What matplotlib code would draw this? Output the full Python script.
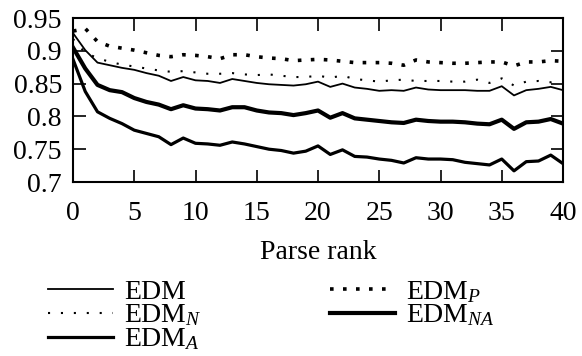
import matplotlib
matplotlib.use('Agg')
from matplotlib import pyplot as plt
from matplotlib.ticker import FuncFormatter

# parse rank 0..40
rank = list(range(41))

edm = [0.927, 0.901, 0.882, 0.878, 0.874, 0.871, 0.866, 0.862, 0.854, 0.860,
       0.855, 0.854, 0.851, 0.857, 0.854, 0.851, 0.849, 0.848, 0.847, 0.849,
       0.853, 0.845, 0.850, 0.844, 0.842, 0.839, 0.840, 0.839, 0.844, 0.841,
       0.840, 0.840, 0.840, 0.839, 0.839, 0.846, 0.832, 0.840, 0.842, 0.845,
       0.840]
edm_n = [0.918, 0.897, 0.889, 0.883, 0.879, 0.876, 0.873, 0.870, 0.868, 0.869,
         0.867, 0.865, 0.865, 0.866, 0.864, 0.863, 0.864, 0.862, 0.860, 0.860,
         0.862, 0.859, 0.862, 0.857, 0.855, 0.853, 0.855, 0.856, 0.854, 0.854,
         0.854, 0.853, 0.853, 0.856, 0.851, 0.858, 0.847, 0.853, 0.854, 0.852,
         0.855]
edm_a = [0.887, 0.838, 0.807, 0.797, 0.789, 0.779, 0.774, 0.769, 0.757, 0.767,
         0.759, 0.758, 0.756, 0.761, 0.758, 0.754, 0.750, 0.748, 0.744, 0.747,
         0.755, 0.742, 0.749, 0.739, 0.738, 0.735, 0.733, 0.729, 0.737, 0.735,
         0.735, 0.734, 0.730, 0.728, 0.726, 0.735, 0.717, 0.731, 0.732, 0.741,
         0.728]
edm_p = [0.930, 0.934, 0.914, 0.907, 0.904, 0.901, 0.897, 0.893, 0.891, 0.894,
         0.893, 0.891, 0.888, 0.894, 0.894, 0.891, 0.889, 0.888, 0.885, 0.886,
         0.887, 0.886, 0.884, 0.882, 0.882, 0.882, 0.881, 0.878, 0.886, 0.883,
         0.882, 0.881, 0.881, 0.882, 0.883, 0.883, 0.877, 0.883, 0.883, 0.885,
         0.884]
edm_na = [0.905, 0.873, 0.848, 0.840, 0.837, 0.828, 0.822, 0.818, 0.811, 0.817,
          0.812, 0.811, 0.809, 0.814, 0.814, 0.809, 0.806, 0.805, 0.802, 0.805,
          0.809, 0.798, 0.805, 0.797, 0.795, 0.793, 0.791, 0.790, 0.795, 0.793,
          0.792, 0.792, 0.791, 0.789, 0.788, 0.795, 0.781, 0.791, 0.792, 0.796,
          0.789]

xticks = [0, 5, 10, 15, 20, 25, 30, 35, 40]
yticks = [0.7, 0.75, 0.8, 0.85, 0.9, 0.95]

plt.rcParams['font.family'] = ['Liberation Serif', 'DejaVu Serif']
plt.rcParams['mathtext.fontset'] = 'custom'
plt.rcParams['mathtext.rm'] = 'Liberation Serif'
plt.rcParams['mathtext.it'] = 'Liberation Serif:italic'
plt.rcParams['font.size'] = 20

fig = plt.figure(figsize=(5.82, 3.56), dpi=100)
ax = fig.add_axes([73 / 582, 1 - 182 / 356, 490 / 582, 164 / 356])

ax.plot(rank, edm, color='black', lw=1.3, label='EDM')
ax.plot(rank, edm_n, color='black', lw=1.5, ls=(0, (1, 5.2)),
        dash_capstyle='butt', label='EDM$_N$')
ax.plot(rank, edm_a, color='black', lw=2.3, label='EDM$_A$')
ax.plot(rank, edm_p, color='black', lw=2.6, ls=(0, (1, 2.6)),
        dash_capstyle='butt', label='EDM$_P$')
ax.plot(rank, edm_na, color='black', lw=3.0, label='EDM$_{NA}$')

ax.set_xlim(0, 40)
ax.set_ylim(0.7, 0.95)
ax.set_xticks(xticks)
ax.set_yticks(yticks)
ax.yaxis.set_major_formatter(FuncFormatter(lambda v, p: '%g' % v))
ax.tick_params(direction='in', length=9, width=1.2, top=True, right=True,
               labelsize=20)
ax.tick_params(axis='x', pad=14)
ax.tick_params(axis='y', pad=8)
for s in ax.spines.values():
    s.set_linewidth(1.5)
ax.set_xlabel('Parse rank', fontsize=20, labelpad=10)

fig.legend(loc='upper left', bbox_to_anchor=(48 / 582, 1 - 279 / 356),
           ncol=2, frameon=False, borderpad=0, borderaxespad=0,
           handlelength=2.35, handletextpad=0.4, columnspacing=4.6,
           labelspacing=-0.08, fontsize=20)

fig.savefig('out.png', dpi=100)
